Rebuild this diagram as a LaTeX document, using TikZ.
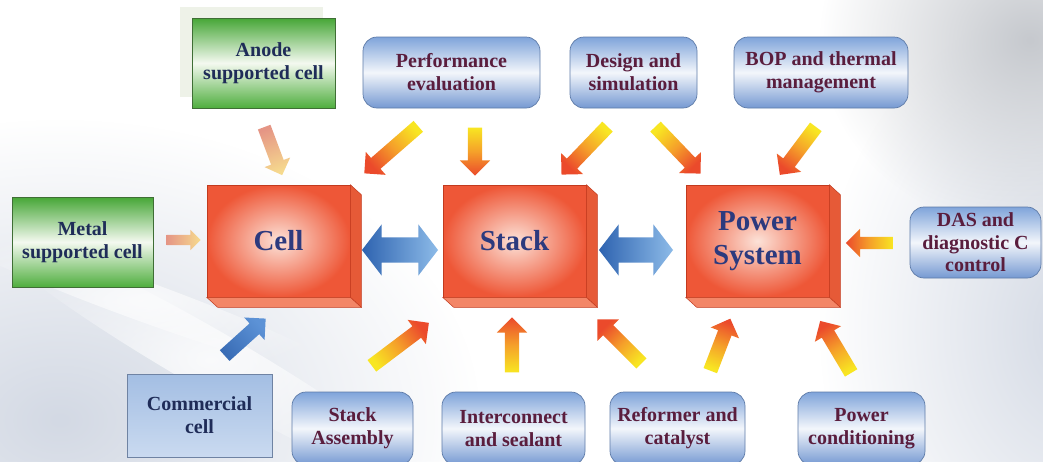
\documentclass[tikz,border=0pt]{standalone}
\usepackage{fontspec}
\setmainfont{Liberation Serif}
\usetikzlibrary{shapes.arrows,calc,fadings}

\definecolor{gdark}{HTML}{46A636}
\definecolor{gdark2}{HTML}{4FAE3E}
\definecolor{gwhite}{HTML}{F4F9F0}
\definecolor{gline}{HTML}{3F6E35}
\definecolor{gshade}{HTML}{EEF2E8}
\definecolor{btop}{HTML}{7FA4DA}
\definecolor{bmid}{HTML}{F3F6FB}
\definecolor{bbot}{HTML}{7599D2}
\definecolor{bline}{HTML}{5E7BA8}
\definecolor{ctop}{HTML}{A3BEE3}
\definecolor{cbot}{HTML}{CADAF0}
\definecolor{cline}{HTML}{6F83A3}
\definecolor{navytxt}{HTML}{1F2C58}
\definecolor{maroontxt}{HTML}{5A1D3D}
\definecolor{coretxt}{HTML}{2C3A7E}
\definecolor{redin}{HTML}{FCE2D8}
\definecolor{redout}{HTML}{EE5737}
\definecolor{redline}{HTML}{C23A1E}
\definecolor{redside}{HTML}{E65A37}
\definecolor{redbot}{HTML}{F38667}
\definecolor{hothead}{HTML}{EB4A2B}
\definecolor{hotmid}{HTML}{F5A02A}
\definecolor{hottail}{HTML}{F8E622}
\definecolor{palehead}{HTML}{F6DA8E}
\definecolor{paletail}{HTML}{E59585}
\definecolor{bluehead}{HTML}{5C92D6}
\definecolor{bluetail}{HTML}{3A6DB6}
\definecolor{dbllight}{HTML}{8DBBE8}
\definecolor{dbldark}{HTML}{2E63B0}
\definecolor{bgblue}{HTML}{D3D9E4}
\definecolor{bggray}{HTML}{C6C9CE}

% smooth radial glow used for the backdrop
\tikzfading[name=softglow, inner color=transparent!0, outer color=transparent!100]

% block arrow laid from one named point to another, shading following its direction
\newcommand\flowarrow[3]{%
  \path let \p1=($(#3)-(#2)$), \n1={atan2(\y1,\x1)}, \n2={veclen(\x1,\y1)},
        \n3={atan2(\y1,\x1)-90}
    in node[#1, rotate=\n1, minimum height=\n2, shading angle=\n3]
       at ($(#2)!0.5!(#3)$) {};}

\begin{document}
\begin{tikzpicture}[x=1pt,y=-1pt,
  tbox/.style={align=center, inner sep=0pt, font=\fontsize{20}{23}\selectfont\bfseries},
  gbox/.style={tbox, rectangle, draw=gline, line width=0.7pt,
    top color=gdark, bottom color=gdark2, middle color=gwhite, text=navytxt},
  rbox/.style={tbox, rectangle, rounded corners=14pt, draw=bline, line width=0.7pt,
    top color=btop, bottom color=bbot, middle color=bmid, text=maroontxt},
  cbox/.style={tbox, rectangle, draw=cline, line width=0.7pt,
    top color=ctop, bottom color=cbot, text=navytxt},
  core/.style={rectangle, draw=redline, line width=0.6pt, inner color=redin,
    outer color=redout, font=\fontsize{29}{34}\selectfont\bfseries, text=coretxt,
    align=center, minimum width=143pt, minimum height=112pt},
  hotarrow/.style={single arrow, inner sep=0pt, text height=14pt, text depth=0pt,
    single arrow head extend=8pt, top color=hothead, bottom color=hottail,
    middle color=hotmid},
  palearrow/.style={single arrow, inner sep=0pt, text height=13pt, text depth=0pt,
    single arrow head extend=7pt, top color=palehead, bottom color=paletail},
  bluearrow/.style={single arrow, inner sep=0pt, text height=14pt, text depth=0pt,
    single arrow head extend=8pt, top color=bluehead, bottom color=bluetail},
  linkarrow/.style={double arrow, inner sep=0pt, text height=25pt, text depth=0pt,
    double arrow head extend=13pt, double arrow tip angle=105,
    top color=dbllight, bottom color=dbldark},
  haze/.style={path fading=softglow}
]
\useasboundingbox (0,0) rectangle (1043,461);

% soft backdrop
\fill[white] (0,0) rectangle (1043,461);
\fill[bgblue, haze] (60,420) ellipse (420 and 300);
\fill[white, haze, opacity=0.8, rotate around={-30:(210,360)}] (210,360) ellipse (260 and 30);
\fill[white, haze, opacity=0.7, rotate around={-20:(140,300)}] (140,300) ellipse (230 and 20);
\fill[bgblue, haze] (1080,330) ellipse (260 and 330);
\fill[bggray, haze] (1030,40) ellipse (210 and 190);

% input boxes
\fill[gshade] (180,7) rectangle (323,97);
\node[gbox, minimum width=143pt, minimum height=90pt] (anode) at (263.5,63) {Anode\\supported cell};
\node[gbox, minimum width=141pt, minimum height=90pt] (metal) at (82.5,242) {Metal\\supported cell};
\node[cbox, minimum width=145pt, minimum height=83pt] (comm) at (199.5,415.5) {Commercial\\cell};

\node[rbox, minimum width=177pt, minimum height=71pt] (perf) at (451.5,72.5) {Performance\\evaluation};
\node[rbox, minimum width=127pt, minimum height=71pt] (design) at (633.5,72.5) {Design and\\simulation};
\node[rbox, minimum width=174pt, minimum height=71pt] (bop) at (821,72.5) {BOP and thermal\\management};
\node[rbox, minimum width=131pt, minimum height=71pt, font=\fontsize{20}{22.5}\selectfont\bfseries]
  (das) at (975.5,242.5) {DAS and\\diagnostic C\\control};

\node[rbox, minimum width=121pt, minimum height=73pt] (sa) at (352.5,428.5) {Stack\\Assembly};
\node[rbox, minimum width=143pt, minimum height=73pt] (ic) at (513.5,428.5) {Interconnect\\and sealant};
\node[rbox, minimum width=135pt, minimum height=73pt] (ref) at (677.5,428.5) {Reformer and\\catalyst};
\node[rbox, minimum width=127pt, minimum height=73pt] (pc) at (861.5,428.5) {Power\\conditioning};

% the three core blocks, drawn as slabs
\foreach \nm/\cx/\txt in {cell/278.5/Cell, stack/514.5/Stack, power/757.5/{Power\\System}}{
  \node[core] (\nm) at (\cx,241) {\txt};
  \filldraw[fill=redside, draw=redline, line width=0.5pt]
    (\nm.north east) -- ++(11,10) -- ($(\nm.south east)+(11,10)$) -- (\nm.south east) -- cycle;
  \filldraw[fill=redbot, draw=redline, line width=0.5pt]
    (\nm.south west) -- ++(11,10) -- ($(\nm.south east)+(11,10)$) -- (\nm.south east) -- cycle;
}

% arrow end points
\coordinate (an-t) at (263,124);  \coordinate (an-h) at (281,172);
\coordinate (me-t) at (164,240);  \coordinate (me-h) at (198,240);
\coordinate (co-t) at (222,358);  \coordinate (co-h) at (263,321);
\coordinate (pc1-t) at (421,124); \coordinate (pc1-h) at (367,171);
\coordinate (ps-t) at (475,124);  \coordinate (ps-h) at (475,172);
\coordinate (ds-t) at (610,124);  \coordinate (ds-h) at (564,172);
\coordinate (dp-t) at (653,124);  \coordinate (dp-h) at (698,171);
\coordinate (bp-t) at (818,124);  \coordinate (bp-h) at (782,172);
\coordinate (dap-t) at (896,243); \coordinate (dap-h) at (849,243);
\coordinate (sas-t) at (369,368); \coordinate (sas-h) at (426,325);
\coordinate (ics-t) at (512,376); \coordinate (ics-h) at (512,321);
\coordinate (rs-t) at (644,366);  \coordinate (rs-h) at (600,322);
\coordinate (rp-t) at (709,374);  \coordinate (rp-h) at (729,322);
\coordinate (pcp-t) at (853,376); \coordinate (pcp-h) at (822,324);
\coordinate (l1-a) at (362,250);  \coordinate (l1-b) at (438,250);
\coordinate (l2-a) at (599,250);  \coordinate (l2-b) at (673,250);

\flowarrow{palearrow, name=a-anode}{an-t}{an-h}
\flowarrow{palearrow, name=a-metal, text height=10pt, single arrow head extend=5pt}{me-t}{me-h}
\flowarrow{bluearrow, name=a-comm}{co-t}{co-h}
\flowarrow{hotarrow, name=a-perf-cell}{pc1-t}{pc1-h}
\flowarrow{hotarrow, name=a-perf-stack}{ps-t}{ps-h}
\flowarrow{hotarrow, name=a-design-stack}{ds-t}{ds-h}
\flowarrow{hotarrow, name=a-design-power}{dp-t}{dp-h}
\flowarrow{hotarrow, name=a-bop}{bp-t}{bp-h}
\flowarrow{hotarrow, name=a-das, text height=12pt}{dap-t}{dap-h}
\flowarrow{hotarrow, name=a-sa}{sas-t}{sas-h}
\flowarrow{hotarrow, name=a-ic}{ics-t}{ics-h}
\flowarrow{hotarrow, name=a-ref-stack}{rs-t}{rs-h}
\flowarrow{hotarrow, name=a-ref-power}{rp-t}{rp-h}
\flowarrow{hotarrow, name=a-pc}{pcp-t}{pcp-h}
\flowarrow{linkarrow, name=a-link1}{l1-a}{l1-b}
\flowarrow{linkarrow, name=a-link2}{l2-a}{l2-b}
\end{tikzpicture}
\end{document}
